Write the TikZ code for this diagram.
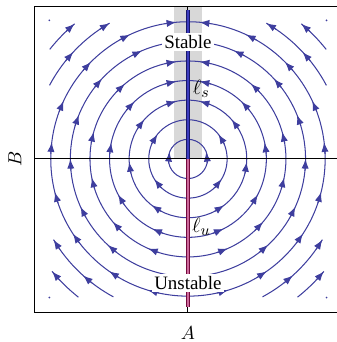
\documentclass[tikz,border=0pt]{standalone}
\usepackage{fontspec}
\setmainfont{Liberation Serif}
\usetikzlibrary{arrows.meta, bending}

\definecolor{flusso}{RGB}{62,62,158}
\definecolor{stabile}{RGB}{22,22,105}
\definecolor{stabilechiaro}{RGB}{60,60,190}
\definecolor{instabile}{RGB}{115,10,60}
\definecolor{instabilechiaro}{RGB}{205,105,155}
\definecolor{banda}{RGB}{216,216,216}

\begin{document}
\begin{tikzpicture}[
  x=4mm, y=4mm,
  font=\fontsize{11}{13}\selectfont,
  linea/.style={draw=flusso, line width=0.6pt},
  freccia/.style={linea, -{Latex[length=5.6pt,width=4.2pt]}},
  etichetta/.style={inner sep=1pt},
  simbolo/.style={inner sep=1pt, font=\fontsize{13}{15}\selectfont},
  cornice/.style={draw=black, line width=0.55pt}
]
\useasboundingbox (-9.59,-9.34) rectangle (7.60,8.11);
\clip (-9.59,-9.34) rectangle (7.60,8.11);

%--------------------------------------------------------------
% Banda grigia attorno alla retta stabile
%--------------------------------------------------------------
\fill[banda] (-0.71,7.76) rectangle (0.71,0);

%--------------------------------------------------------------
% Linee di flusso: cerchi completi e archi negli angoli
%--------------------------------------------------------------
\foreach \r in {1,...,7}
  \draw[linea] (0,0) circle[radius=\r];

\foreach \inizio/\fine/\r in {152/120/8, 241.6/211/8, 141.6/130/9, 231.6/219.6/9} {
  \draw[linea] (\inizio:\r) arc[start angle=\inizio, end angle=\fine, radius=\r];
  \draw[linea] ({180-\inizio}:\r) arc[start angle={180-\inizio}, end angle={180-\fine}, radius=\r];
}

\foreach \a in {45,135,225,315}
  \fill[flusso] (\a:10) circle[radius=0.05];

%--------------------------------------------------------------
% Frecce: angoli a sinistra, specchiati a destra
%--------------------------------------------------------------
\foreach \r/\angoli in {1/{159}, 2/{141,211}, 3/{101.5,138,183,232},
    4/{98.6,133,168,207,243}, 5/{96.9,130,164,191,220,246},
    6/{113,137,158,180,204,227},
    7/{94.9,115,135,155,173,194,213,235,253},
    8/{120,137,211,228}, 9/{130,219.6}} {
  \foreach \a in \angoli {
    \draw[freccia] ({\a+34/\r}:\r) arc[start angle={\a+34/\r}, end angle=\a, radius=\r];
    \draw[freccia] ({180-\a-34/\r}:\r) arc[start angle={180-\a-34/\r}, end angle={180-\a}, radius=\r];
  }
}

%--------------------------------------------------------------
% Assi e rette di punti fissi
%--------------------------------------------------------------
\draw[cornice] (-7.81,0) -- (7.90,0);
\draw[cornice] (0,7.76) -- (0,-7.81);

\draw[draw=stabile, double=stabilechiaro, double distance=0.7pt, line width=0.6pt]
  (0,0) -- (0,7.6);
\draw[draw=instabile, double=instabilechiaro, double distance=0.7pt, line width=0.6pt]
  (0,0) -- (0,-7.55);

%--------------------------------------------------------------
% Etichette
%--------------------------------------------------------------
\node[etichetta, fill=white, inner sep=1.5pt] (stabile) at (0,5.97) {Stable};
\node[etichetta, fill=white, inner sep=1.5pt] (instabile) at (0,-6.33) {Unstable};
\node[simbolo] (ls) at (0.68,3.6) {$\ell_s$};
\node[simbolo] (lu) at (0.68,-3.47) {$\ell_u$};
\node[etichetta, rotate=90] (asseB) at (-8.83,0) {$B$};
\node[etichetta] (asseA) at (0,-8.88) {$A$};

%--------------------------------------------------------------
% Cornice
%--------------------------------------------------------------
\draw[cornice] (-7.81,-7.81) rectangle (7.81,7.76);

\end{tikzpicture}
\end{document}
